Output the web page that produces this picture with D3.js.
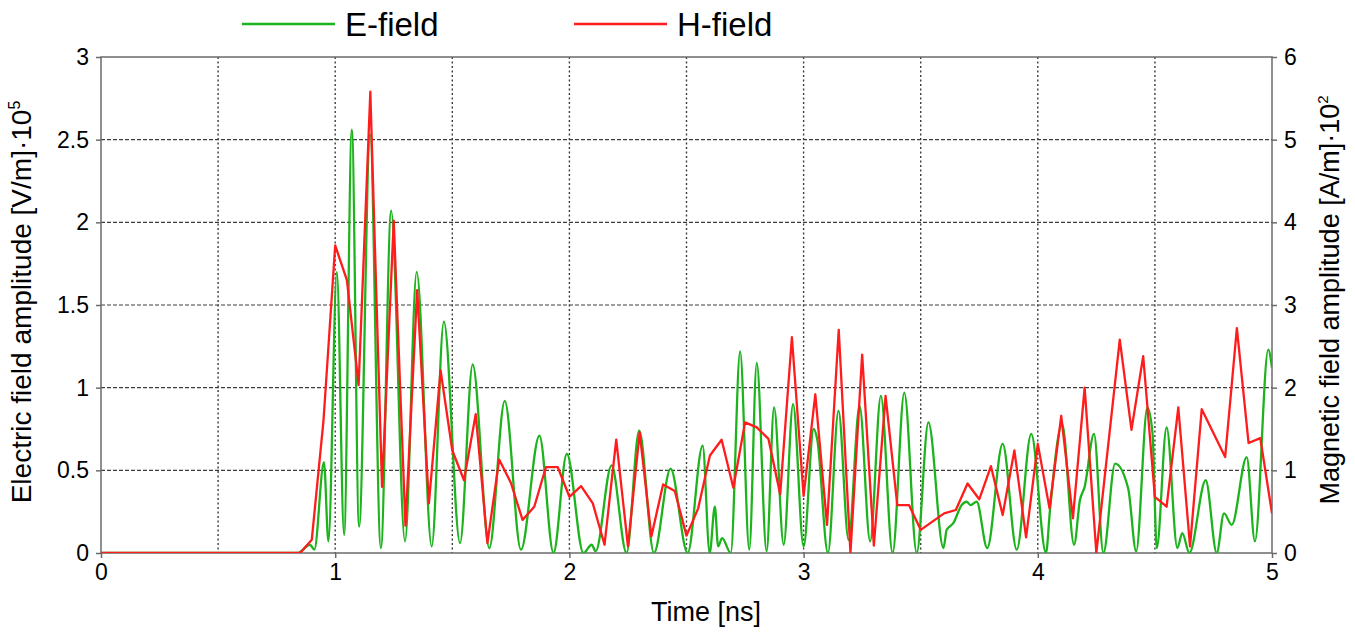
<!DOCTYPE html>
<html>
<head>
<meta charset="utf-8">
<script src="https://cdn.jsdelivr.net/npm/d3@7"></script>
<style>
  body { margin: 0; background: #fff; }
  text { font-family: "Liberation Sans", Arial, sans-serif; fill: #000; }
</style>
</head>
<body>
<svg id="chart" width="1355" height="634"></svg>
<script>
// Electric field amplitude (x1e5 V/m) against time (ns)
const timeE = [0, 0.84, 0.892, 0.911, 0.952, 0.971, 1.007, 1.038, 1.071, 1.102, 1.149, 1.195, 1.239, 1.298,
  1.348, 1.412, 1.464, 1.533, 1.587, 1.658, 1.724, 1.793, 1.872, 1.932, 1.989, 2.060, 2.095, 2.112,
  2.180, 2.244, 2.298, 2.361, 2.432, 2.505, 2.569, 2.599, 2.621, 2.635, 2.652, 2.689, 2.729, 2.768,
  2.800, 2.842, 2.874, 2.915, 2.955, 3.000, 3.043, 3.058, 3.104, 3.149, 3.192, 3.239, 3.284, 3.330,
  3.380, 3.430, 3.483, 3.533, 3.597, 3.611, 3.639, 3.675, 3.696, 3.713, 3.739, 3.784, 3.850, 3.910,
  3.972, 4.035, 4.052, 4.104, 4.155, 4.180, 4.200, 4.240, 4.280, 4.330, 4.386, 4.420, 4.468, 4.490,
  4.508, 4.550, 4.596, 4.617, 4.647, 4.717, 4.764, 4.795, 4.828, 4.892, 4.927, 4.984, 5.000];
const eField = [0, 0, 0.05, 0.02, 0.55, 0.07, 1.70, 0.11, 2.56, 0.16, 2.53, 0.03, 2.07, 0.07,
  1.70, 0.04, 1.40, 0.06, 1.14, 0.03, 0.92, 0.02, 0.71, 0.00, 0.60, 0.00, 0.05, 0.01,
  0.53, 0.00, 0.74, 0.00, 0.51, 0.00, 0.65, 0.00, 0.28, 0.04, 0.09, 0.00, 1.22, 0.02,
  1.15, 0.01, 0.88, 0.05, 0.90, 0.04, 0.75, 0.69, 0.00, 0.86, 0.08, 0.89, 0.07, 0.95,
  0.00, 0.97, 0.00, 0.79, 0.03, 0.14, 0.18, 0.29, 0.31, 0.29, 0.31, 0.03, 0.66, 0.02,
  0.72, 0.00, 0.26, 0.78, 0.05, 0.32, 0.40, 0.72, 0.00, 0.54, 0.39, 0.01, 0.88, 0.72,
  0.03, 0.76, 0.03, 0.12, 0.00, 0.44, 0.00, 0.24, 0.17, 0.58, 0.07, 1.23, 1.12];

// Magnetic field amplitude (x1e2 A/m) against time (ns)
const timeH = [0, 0.85, 0.90, 0.95, 1.00, 1.05, 1.10, 1.15, 1.20, 1.25, 1.30, 1.35, 1.40, 1.45, 1.50,
  1.55, 1.60, 1.65, 1.70, 1.75, 1.80, 1.85, 1.90, 1.95, 2.00, 2.05, 2.10, 2.15, 2.20, 2.25, 2.30,
  2.35, 2.40, 2.45, 2.50, 2.55, 2.60, 2.65, 2.70, 2.75, 2.80, 2.85, 2.90, 2.95, 3.00, 3.05, 3.10,
  3.15, 3.20, 3.25, 3.30, 3.35, 3.40, 3.45, 3.50, 3.60, 3.65, 3.70, 3.75, 3.80, 3.85, 3.90, 3.95,
  4.00, 4.05, 4.10, 4.15, 4.20, 4.25, 4.35, 4.40, 4.45, 4.50, 4.55, 4.60, 4.65, 4.70, 4.80, 4.85,
  4.90, 4.95, 5.00];
const hField = [0, 0, 0.16, 1.60, 3.72, 3.30, 2.03, 5.58, 0.80, 4.02, 0.33, 3.18, 0.60, 2.21, 1.24,
  0.88, 1.68, 0.12, 1.13, 0.85, 0.40, 0.56, 1.04, 1.04, 0.68, 0.81, 0.60, 0.10, 1.37, 0.08, 1.46,
  0.20, 0.83, 0.75, 0.21, 0.54, 1.18, 1.37, 0.79, 1.58, 1.52, 1.38, 0.71, 2.61, 0.69, 1.92, 0.34,
  2.70, 0.00, 2.40, 0.09, 1.90, 0.58, 0.58, 0.28, 0.48, 0.52, 0.84, 0.65, 1.05, 0.46, 1.24, 0.19,
  1.32, 0.54, 1.66, 0.42, 2.00, 0.00, 2.58, 1.49, 2.38, 0.68, 0.56, 1.76, 0.08, 1.74, 1.16, 2.72,
  1.33, 1.39, 0.48];

const timeTicks = [0, 1, 2, 3, 4, 5];
const timeGrid = [0.5, 1, 1.5, 2, 2.5, 3, 3.5, 4, 4.5];
const eTicks = [0, 0.5, 1, 1.5, 2, 2.5, 3];
const hTicks = [0, 1, 2, 3, 4, 5, 6];
const seriesNames = ["E-field", "H-field"];

const W = 1355, H = 634;
const margin = { left: 101, right: 83, top: 57, bottom: 81 };
const pw = W - margin.left - margin.right;
const ph = H - margin.top - margin.bottom;

const GREEN = "#1db31d", RED = "#ff1c1c", AXIS = "#6b6b6b", GRID = "#3c3c3c";

const svg = d3.select("#chart");
const g = svg.append("g").attr("transform", `translate(${margin.left},${margin.top})`);

const x = d3.scaleLinear().domain([0, 5]).range([0, pw]);
const yE = d3.scaleLinear().domain([0, 3]).range([ph, 0]);
const yH = d3.scaleLinear().domain([0, 6]).range([ph, 0]);

// grid
g.append("g").selectAll("line").data(timeGrid).join("line")
  .attr("x1", d => x(d)).attr("x2", d => x(d)).attr("y1", 0).attr("y2", ph)
  .attr("stroke", GRID).attr("stroke-width", 1.4).attr("stroke-dasharray", "2,2.5");
g.append("g").selectAll("line").data(eTicks.filter(d => d > 0 && d < 3)).join("line")
  .attr("x1", 0).attr("x2", pw).attr("y1", d => yE(d)).attr("y2", d => yE(d))
  .attr("stroke", GRID).attr("stroke-width", 1.2).attr("stroke-dasharray", "4,2");

// frame
g.append("rect").attr("x", 0).attr("y", 0).attr("width", pw).attr("height", ph)
  .attr("fill", "none").attr("stroke", AXIS).attr("stroke-width", 1.5);

// axes
const fmt = d => String(d);
const styleAxis = sel => {
  sel.select(".domain").remove();
  sel.selectAll(".tick line").attr("stroke", AXIS).attr("stroke-width", 1.5);
  sel.selectAll(".tick text").style("font-size", "23px").attr("fill", "#000");
};
g.append("g").attr("transform", `translate(0,${ph})`)
  .call(d3.axisBottom(x).tickValues(timeTicks).tickFormat(fmt).tickSize(5).tickPadding(6))
  .call(styleAxis);
g.append("g")
  .call(d3.axisLeft(yE).tickValues(eTicks).tickFormat(fmt).tickSize(5).tickPadding(7))
  .call(styleAxis);
g.append("g").attr("transform", `translate(${pw},0)`)
  .call(d3.axisRight(yH).tickValues(hTicks).tickFormat(fmt).tickSize(5).tickPadding(7))
  .call(styleAxis);

// clip
svg.append("defs").append("clipPath").attr("id", "plotClip")
  .append("rect").attr("x", 0).attr("y", -2).attr("width", pw).attr("height", ph + 2);

const eData = timeE.map((t, i) => [t, eField[i]]);
const hData = timeH.map((t, i) => [t, hField[i]]);

const lineE = d3.line().x(d => x(d[0])).y(d => yE(d[1])).curve(d3.curveMonotoneX);
const lineH = d3.line().x(d => x(d[0])).y(d => yH(d[1]));

const lines = g.append("g").attr("clip-path", "url(#plotClip)");
lines.append("path").datum(eData).attr("d", lineE)
  .attr("fill", "none").attr("stroke", GREEN).attr("stroke-width", 2.3).attr("stroke-linejoin", "round");
lines.append("path").datum(hData).attr("d", lineH)
  .attr("fill", "none").attr("stroke", RED).attr("stroke-width", 2.3).attr("stroke-linejoin", "round");

// axis titles
svg.append("text").attr("x", 706).attr("y", 621)
  .attr("text-anchor", "middle").style("font-size", "27px").text("Time [ns]");

const leftTitle = svg.append("text")
  .attr("transform", "translate(31,302) rotate(-90)")
  .attr("text-anchor", "middle").style("font-size", "28px");
leftTitle.append("tspan").text("Electric field amplitude [V/m]·10");
leftTitle.append("tspan").attr("dy", -11).style("font-size", "16px").text("5");

const rightTitle = svg.append("text")
  .attr("transform", "translate(1339,300) rotate(-90)")
  .attr("text-anchor", "middle").style("font-size", "27px");
rightTitle.append("tspan").text("Magnetic field amplitude [A/m]·10");
rightTitle.append("tspan").attr("dy", -11).style("font-size", "15px").text("2");

// legend
const legend = svg.append("g");
const legendItems = [
  { name: seriesNames[0], color: GREEN, x0: 242 },
  { name: seriesNames[1], color: RED, x0: 574 }
];
legendItems.forEach(it => {
  legend.append("line").attr("x1", it.x0).attr("x2", it.x0 + 93).attr("y1", 24).attr("y2", 24)
    .attr("stroke", it.color).attr("stroke-width", 2.5);
  legend.append("text").attr("x", it.x0 + 103).attr("y", 36)
    .style("font-size", "33px").text(it.name);
});
</script>
</body>
</html>
